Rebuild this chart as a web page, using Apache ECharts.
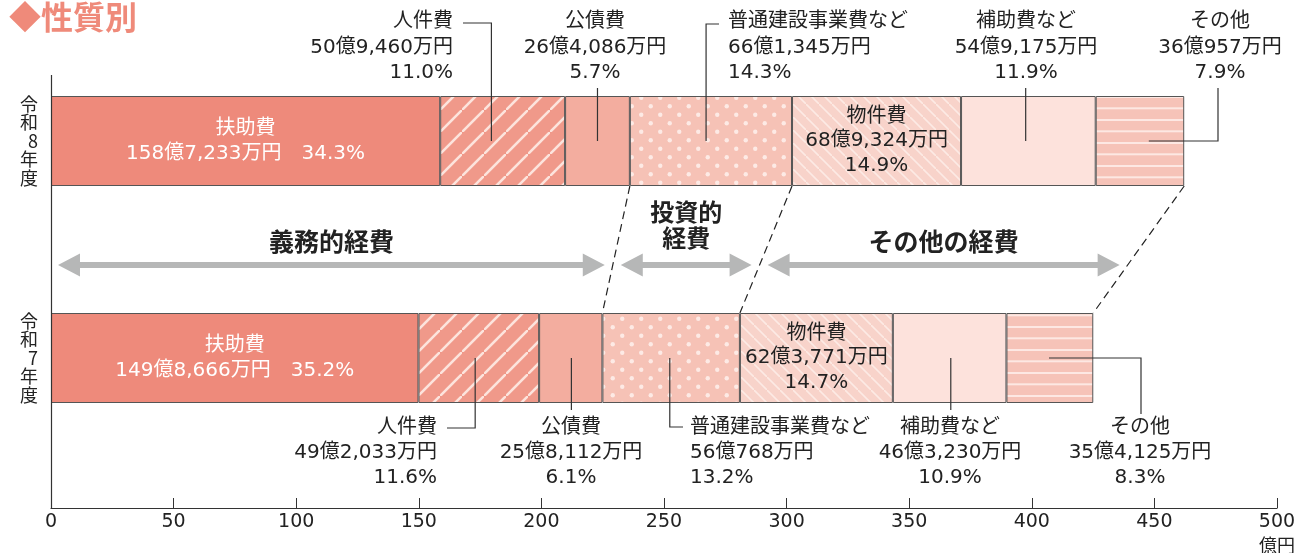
<!DOCTYPE html>
<html lang="ja">
<head>
<meta charset="UTF-8">
<title>性質別</title>
<script src="https://cdn.jsdelivr.net/npm/echarts@6/dist/echarts.min.js"></script>
<style>
    html,body{margin:0;padding:0;background:#fff;}
    #chart{width:1303px;height:553px;}
</style>
</head>
<body>
<div id="chart"></div>
<script>
// ---- data ----
var years = ['令和7年度', '令和8年度'];
var names = ['扶助費', '人件費', '公債費', '普通建設事業費など', '物件費', '補助費など', 'その他'];
// 金額（万円）
var r7 = [1498666, 492033, 258112, 560768, 623771, 463230, 354125];
var r8 = [1587233, 509460, 264086, 661345, 689324, 549175, 360957];
// 構成比（％）
var r7pct = ['35.2', '11.6', '6.1', '13.2', '14.7', '10.9', '8.3'];
var r8pct = ['34.3', '11.0', '5.7', '14.3', '14.9', '11.9', '7.9'];
var groups = ['義務的経費', '投資的\n経費', 'その他の経費'];
var xMin = 0, xMax = 500, xStep = 50;

var FONT = "'DejaVu Sans', 'Noto Sans CJK JP', sans-serif";
var CJK = "'Noto Sans CJK JP', sans-serif";

function money(v) {
    var oku = Math.floor(v / 10000), man = v % 10000;
    return oku + '億' + man.toLocaleString('en-US') + '万円';
}

// canvas tiles for the hatched fills
function tile(kind, base, fg) {
    var c = document.createElement('canvas');
    var w = 14, h = 14;
    if (kind === 'slash') { w = 22; h = 22; }
    if (kind === 'back') { w = 13; h = 13; }
    if (kind === 'dots') { w = 19; h = 17; }
    if (kind === 'hline') { w = 10; h = 11.3 * 2; }
    c.width = w; c.height = Math.round(h);
    var g = c.getContext('2d');
    g.fillStyle = base;
    g.fillRect(0, 0, c.width, c.height);
    g.strokeStyle = fg;
    g.fillStyle = fg;
    if (kind === 'slash') {
        g.lineWidth = 2.6;
        [[-w, 2 * w], [0, w], [w, 0]].forEach(function (o) {
            g.beginPath(); g.moveTo(o[0], o[1] + 0); g.lineTo(o[0] + w, o[1] - w); g.stroke();
        });
    } else if (kind === 'back') {
        g.lineWidth = 1.6;
        [[-w, -w], [0, 0], [w, w]].forEach(function (o) {
            g.beginPath(); g.moveTo(o[0], o[1]); g.lineTo(o[0] + w, o[1] + w); g.stroke();
        });
    } else if (kind === 'dots') {
        [[4.75, 4.25], [14.25, 12.75]].forEach(function (p) {
            g.beginPath(); g.arc(p[0], p[1], 2.2, 0, Math.PI * 2); g.fill();
        });
    } else if (kind === 'hline') {
        g.fillRect(0, 4, w, 2);
        g.fillRect(0, 15.3, w, 2);
    }
    return {image: c, repeat: 'repeat'};
}

var fills = [
    '#ee8a7b',
    tile('slash', '#f0998a', 'rgba(253,232,226,0.95)'),
    '#f3ad9f',
    tile('dots', '#f6c2b6', 'rgba(253,236,232,0.95)'),
    tile('back', '#f8d3ca', 'rgba(253,236,231,0.9)'),
    '#fde2dc',
    tile('hline', '#f6c3b8', 'rgba(253,234,229,0.95)')
];

var chart = echarts.init(document.getElementById('chart'));

var series = names.map(function (n, i) {
    var s = {
        name: n,
        type: 'bar',
        stack: 'total',
        barWidth: 90,
        data: [r7[i] / 10000, r8[i] / 10000],
        itemStyle: {color: fills[i], borderColor: '#555', borderWidth: 1},
        emphasis: {disabled: true},
        label: {show: false}
    };
    if (i === 0) {
        s.label = {
            show: true, position: 'inside', color: '#fff', fontFamily: FONT, fontSize: 20, lineHeight: 25,
            formatter: function (p) {
                var v = p.dataIndex === 0 ? r7[0] : r8[0];
                var pc = p.dataIndex === 0 ? r7pct[0] : r8pct[0];
                return n + '\n' + money(v) + '　' + pc + '%';
            }
        };
    }
    if (i === 4) {
        s.label = {
            show: true, position: 'inside', color: '#222', fontFamily: FONT, fontSize: 20, lineHeight: 24.5,
            formatter: function (p) {
                var v = p.dataIndex === 0 ? r7[4] : r8[4];
                var pc = p.dataIndex === 0 ? r7pct[4] : r8pct[4];
                return n + '\n' + money(v) + '\n' + pc + '%';
            }
        };
    }
    return s;
});

chart.setOption({
    animation: false,
    grid: {left: 51, right: 26, top: 32.5, bottom: 86.5},
    xAxis: {
        type: 'value', min: xMin, max: xMax, interval: xStep, offset: 41.5,
        axisLine: {show: true, lineStyle: {color: '#333', width: 1.2}},
        axisTick: {show: true, inside: true, length: 10, lineStyle: {color: '#333'}},
        axisLabel: {color: '#222', fontSize: 19, fontFamily: FONT, margin: 5},
        splitLine: {show: false}
    },
    yAxis: {
        type: 'category', data: years,
        axisLine: {show: false}, axisTick: {show: false},
        axisLabel: {
            color: '#222', fontSize: 18, lineHeight: 18.4, fontFamily: CJK, margin: 13,
            formatter: function (v) { return v.split('').join('\n'); }
        }
    },
    series: series
});

// ---- annotations built from the axes ----
function px(v, row) { return chart.convertToPixel({gridIndex: 0}, [v, row]); }
function cum(arr) {
    var out = [0], t = 0;
    arr.forEach(function (v) { t += v / 10000; out.push(t); });
    return out;
}
var c7 = cum(r7), c8 = cum(r8);
function segX(c, row, i, f) {
    var a = px(c[i], row)[0], b = px(c[i + 1], row)[0];
    return a + (b - a) * f;
}
var y7 = px(0, 0)[1], y8 = px(0, 1)[1];
var half = 45;

var gr = [];
var lineStyle = {stroke: '#333', lineWidth: 1.2, fill: null};
function poly(pts) { gr.push({type: 'polyline', shape: {points: pts}, style: lineStyle, z: 10}); }
function txt(str, x, y, align, opt) {
    opt = opt || {};
    gr.push({
        type: 'text', z: 10,
        style: {
            text: str, x: x, y: y, align: align, verticalAlign: opt.va || 'top',
            fontSize: opt.size || 20, fontFamily: opt.family || FONT, fontWeight: opt.weight || 'normal',
            lineHeight: opt.lh || 25.5, fill: opt.color || '#222'
        }
    });
}
function block(i, vals, pcts) { return names[i] + '\n' + money(vals[i]) + '\n' + pcts[i] + '%'; }

// 令和8年度（上段）
var topY = 9.5;
txt(block(1, r8, r8pct), 453, topY, 'right');
var vx = segX(c8, 1, 1, 0.41);
poly([[463, 23], [vx, 23], [vx, y8]]);
txt(block(2, r8, r8pct), 595, topY, 'center');
vx = segX(c8, 1, 2, 0.5);
poly([[vx, 88], [vx, y8]]);
txt(block(3, r8, r8pct), 728, topY, 'left');
vx = segX(c8, 1, 3, 0.47);
poly([[719, 24], [vx, 24], [vx, y8]]);
txt(block(5, r8, r8pct), 1026, topY, 'center');
vx = segX(c8, 1, 5, 0.48);
poly([[vx, 88], [vx, y8]]);
txt(block(6, r8, r8pct), 1220, topY, 'center');
vx = segX(c8, 1, 6, 0.6);
poly([[vx, y8], [1218, y8], [1218, 88]]);

// 令和7年度（下段）
var botY = 415.5;
txt(block(1, r7, r7pct), 437, botY, 'right', {lh: 25});
vx = segX(c7, 0, 1, 0.47);
poly([[vx, y7], [vx, 428], [447, 428]]);
txt(block(2, r7, r7pct), 571, botY, 'center', {lh: 25});
vx = segX(c7, 0, 2, 0.51);
poly([[vx, y7], [vx, 410]]);
txt(block(3, r7, r7pct), 690, botY, 'left', {lh: 25});
vx = segX(c7, 0, 3, 0.49);
poly([[vx, y7], [vx, 427], [683, 427]]);
txt(block(5, r7, r7pct), 950, botY, 'center', {lh: 25});
vx = segX(c7, 0, 5, 0.51);
poly([[vx, y7], [vx, 410]]);
txt(block(6, r7, r7pct), 1140, botY, 'center', {lh: 25});
vx = segX(c7, 0, 6, 0.49);
poly([[vx, y7], [1141, y7], [1141, 414]]);

// dashed connectors between the two bars
var yb8 = y8 + half, yt7 = y7 - half;
var cuts = [3, 4, 7];
var cross = [];
cuts.forEach(function (k) {
    var xa = px(c8[k], 1)[0], xb = px(c7[k], 0)[0];
    gr.push({type: 'line', shape: {x1: xa, y1: yb8, x2: xb, y2: yt7},
        style: {stroke: '#222', lineWidth: 1.2, lineDash: [8, 5]}, z: 5});
    var t = (265 - yb8) / (yt7 - yb8);
    cross.push(xa + (xb - xa) * t);
});

// range arrows
function arrow(x1, x2, y) {
    var hl = 22, hw = 11.5, sw = 3;
    gr.push({type: 'polygon', z: 4, shape: {points: [
        [x1, y], [x1 + hl, y - hw], [x1 + hl, y - sw], [x2 - hl, y - sw], [x2 - hl, y - hw],
        [x2, y], [x2 - hl, y + hw], [x2 - hl, y + sw], [x1 + hl, y + sw], [x1 + hl, y + hw]
    ]}, style: {fill: '#b6b7b7'}});
}
var ay = 265, gap = 8;
var x0 = px(0, 0)[0];
var spans = [[x0 + 7, cross[0] - gap], [cross[0] + gap, cross[1] - gap], [cross[1] + gap, cross[2] - gap]];
spans.forEach(function (s, i) {
    arrow(s[0], s[1], ay);
    var mid = (s[0] + s[1]) / 2;
    if (groups[i].indexOf('\n') >= 0) {
        txt(groups[i], mid, 225, 'center', {va: 'middle', size: 24, weight: 'bold', family: CJK, lh: 26.5});
    } else {
        txt(groups[i], mid, 241, 'center', {va: 'middle', size: 25, weight: 'bold', family: CJK});
    }
});

// vertical axis line, unit, title
gr.push({type: 'line', shape: {x1: 51.5, y1: 75, x2: 51.5, y2: 508}, style: {stroke: '#333', lineWidth: 1.2}, z: 3});
txt('億円', px(xMax, 0)[0], 545, 'center', {va: 'middle', size: 18, family: CJK});
txt('◆性質別', 9, 17, 'left', {va: 'middle', size: 32, weight: 'bold', family: CJK, color: '#ef8a7a'});

chart.setOption({graphic: gr});
</script>
</body>
</html>
